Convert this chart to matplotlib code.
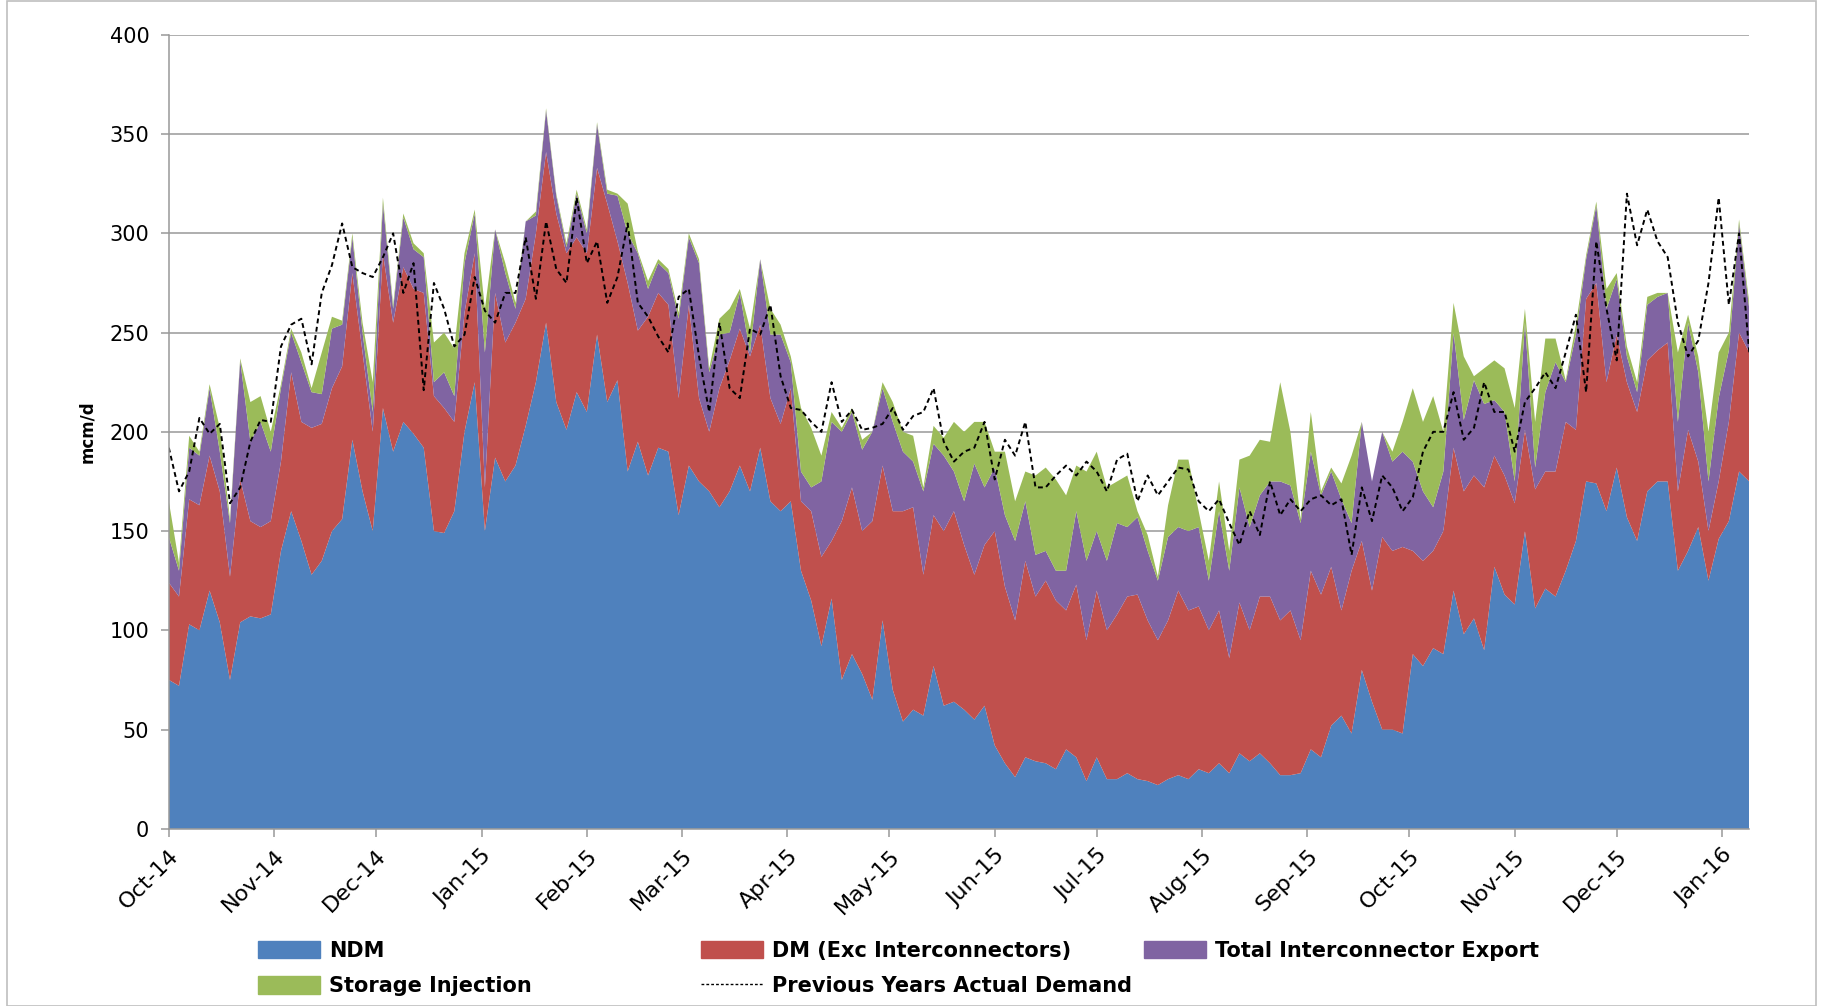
import numpy as np
import matplotlib
matplotlib.use("Agg")
import matplotlib.pyplot as plt
import matplotlib.dates as mdates
from matplotlib.lines import Line2D
from matplotlib.patches import Patch, Rectangle

plt.rcParams['font.family'] = ['DejaVu Sans']

# one reading every 3 days from 1 Oct 2014
start = np.datetime64('2014-10-01')
step_days = 3

# stack levels (mcm/d): top of NDM, top of DM, top of
# interconnector export, top of storage injection
ndm_top = [
    75, 72, 103, 100, 120, 104, 75, 104, 107, 106,
    108, 140, 160, 145, 128, 135, 150, 156, 196, 170,
    150, 212, 190, 205, 199, 192, 150, 149, 160, 200,
    225, 150, 187, 175, 183, 203, 225, 255, 215, 201,
    220, 210, 249, 215, 226, 180, 195, 178, 192, 190,
    158, 183, 175, 170, 162, 170, 183, 170, 192, 165,
    160, 165, 130, 115, 92, 116, 75, 88, 78, 65,
    105, 70, 54, 60, 57, 82, 62, 64, 60, 55,
    62, 42, 33, 26, 36, 34, 33, 30, 40, 36,
    24, 36, 25, 25, 28, 25, 24, 22, 25, 27,
    25, 30, 28, 33, 28, 38, 34, 38, 33, 27,
    27, 28, 40, 36, 52, 57, 48, 80, 64, 50,
    50, 48, 88, 82, 91, 88, 120, 98, 106, 90,
    132, 118, 113, 150, 111, 121, 117, 130, 145, 175,
    174, 160, 182, 157, 145, 170, 175, 175, 130, 140,
    152, 125, 146, 155, 180, 175,
]
dm_top = [
    124, 117, 166, 163, 188, 170, 127, 176, 155, 152,
    155, 185, 230, 205, 202, 204, 222, 233, 280, 240,
    200, 290, 255, 283, 272, 270, 218, 212, 205, 260,
    290, 172, 270, 245, 255, 267, 300, 341, 310, 290,
    298, 290, 333, 315, 296, 275, 251, 258, 270, 264,
    217, 264, 217, 200, 222, 236, 252, 238, 254, 217,
    204, 222, 165, 160, 137, 145, 155, 172, 150, 155,
    183, 160, 160, 162, 128, 158, 150, 160, 143, 128,
    143, 150, 122, 105, 135, 117, 125, 115, 110, 123,
    95, 120, 100, 108, 117, 118, 105, 95, 105, 120,
    110, 112, 100, 110, 86, 114, 100, 117, 117, 105,
    110, 95, 130, 118, 132, 110, 130, 145, 120, 147,
    140, 142, 140, 135, 140, 150, 192, 170, 178, 172,
    188, 178, 164, 201, 171, 180, 180, 205, 201, 267,
    275, 225, 249, 225, 210, 236, 241, 245, 170, 201,
    185, 150, 175, 205, 250, 240,
]
export_top = [
    147, 130, 192, 188, 222, 190, 154, 236, 195, 205,
    190, 222, 250, 235, 220, 219, 252, 254, 298, 250,
    210, 315, 262, 308, 292, 288, 225, 230, 218, 285,
    310, 240, 302, 280, 262, 306, 309, 362, 319, 293,
    320, 300, 355, 320, 319, 300, 290, 272, 285, 280,
    257, 298, 285, 230, 249, 250, 270, 240, 287, 249,
    249, 235, 180, 172, 175, 205, 200, 210, 191, 200,
    222, 205, 190, 185, 170, 194, 188, 180, 165, 184,
    172, 182, 158, 145, 165, 138, 140, 130, 130, 160,
    135, 150, 135, 154, 152, 157, 140, 125, 147, 152,
    150, 152, 125, 160, 130, 172, 152, 168, 175, 175,
    173, 154, 190, 168, 180, 166, 154, 205, 175, 200,
    185, 190, 185, 170, 162, 180, 250, 206, 226, 214,
    216, 210, 175, 255, 182, 220, 235, 225, 249, 287,
    314, 262, 277, 238, 220, 264, 268, 270, 205, 255,
    230, 175, 217, 241, 305, 262,
]
storage_top = [
    165, 134, 198, 190, 224, 202, 156, 237, 215, 218,
    200, 224, 252, 240, 222, 240, 258, 256, 300, 255,
    225, 318, 264, 310, 295, 290, 245, 250, 242, 290,
    312, 262, 302, 285, 265, 306, 311, 363, 320, 295,
    322, 302, 356, 322, 320, 315, 291, 276, 287, 282,
    260, 300, 287, 232, 257, 262, 272, 252, 287, 262,
    254, 238, 212, 202, 188, 210, 202, 212, 196, 200,
    225, 215, 200, 198, 172, 203, 197, 205, 200, 205,
    205, 190, 190, 165, 180, 178, 182, 176, 168, 183,
    180, 190, 172, 175, 178, 160, 148, 127, 163, 186,
    186, 160, 135, 175, 140, 186, 188, 196, 195, 225,
    200, 156, 210, 170, 182, 174, 188, 205, 175, 200,
    190, 205, 222, 205, 218, 200, 265, 238, 228, 232,
    236, 232, 212, 262, 205, 247, 247, 226, 254, 289,
    316, 272, 280, 243, 225, 268, 270, 270, 240, 259,
    238, 200, 240, 250, 307, 265,
]
prev_year = [
    192, 170, 180, 207, 199, 204, 164, 172, 195, 206,
    205, 243, 254, 257, 234, 270, 284, 305, 283, 280,
    278, 288, 300, 270, 285, 221, 275, 262, 243, 249,
    278, 261, 255, 270, 270, 298, 267, 306, 282, 275,
    318, 285, 296, 265, 278, 305, 265, 258, 248, 240,
    268, 272, 238, 210, 255, 222, 217, 252, 249, 264,
    228, 212, 211, 205, 200, 225, 205, 211, 201, 202,
    204, 212, 201, 208, 210, 222, 195, 185, 190, 192,
    205, 176, 196, 188, 205, 172, 172, 178, 183, 178,
    185, 180, 170, 186, 189, 165, 178, 168, 175, 182,
    181, 165, 160, 166, 154, 143, 160, 148, 175, 158,
    166, 160, 166, 168, 163, 166, 138, 172, 155, 178,
    172, 160, 167, 190, 200, 200, 220, 196, 202, 225,
    210, 210, 190, 215, 222, 230, 222, 240, 259, 220,
    296, 262, 236, 320, 294, 312, 296, 288, 255, 238,
    246, 275, 318, 264, 300, 240,
]

series_names = ['NDM', 'DM (Exc Interconnectors)', 'Total Interconnector Export',
                'Storage Injection']
prev_name = 'Previous Years Actual Demand'
colors = ['#4F81BD', '#C0504D', '#8064A2', '#9BBB59']

dates = start + np.arange(len(ndm_top)) * np.timedelta64(step_days, 'D')
dates = dates.astype('datetime64[D]').astype(object)

levels = np.array([ndm_top, dm_top, export_top, storage_top], dtype=float)
components = np.vstack([levels[0], np.diff(levels, axis=0)])

fig = plt.figure(figsize=(18.25, 10.06), dpi=100)
ax = fig.add_axes([0.0925, 0.1762, 0.866, 0.7891])

ax.stackplot(dates, components, colors=colors, linewidth=0)
ax.plot(dates, prev_year, color='black', lw=1.4, ls=(0, (2.5, 1.8)))

ax.set_ylim(0, 400)
ax.set_xlim(dates[0], dates[-1])
ax.set_yticks(np.arange(0, 401, 50))
ax.yaxis.grid(True, color='#999999', lw=1.1)
ax.set_axisbelow(True)

ax.xaxis.set_major_locator(mdates.MonthLocator())
ax.xaxis.set_major_formatter(mdates.DateFormatter('%b-%y'))
for lbl in ax.get_xticklabels():
    lbl.set_rotation(45)
    lbl.set_ha('right')
    lbl.set_rotation_mode('anchor')

ax.tick_params(axis='both', color='#999999', length=6, width=1.1)
ax.tick_params(axis='y', labelsize=15, pad=8)
ax.tick_params(axis='x', labelsize=16, pad=6)
for side in ['top', 'right']:
    ax.spines[side].set_visible(False)
for side in ['left', 'bottom']:
    ax.spines[side].set_color('#999999')
    ax.spines[side].set_linewidth(1.1)

ax.set_ylabel('mcm/d', fontsize=12, fontweight='bold')
ax.yaxis.set_label_coords(-0.046, 0.5)

# legend: three columns laid out like the original
handles = [Patch(color=c) for c in colors]
prev_handle = Line2D([], [], color='black', lw=1, ls=(0, (2, 1.5)))
cols = [
    ([handles[0], handles[3]], [series_names[0], series_names[3]], 0.1367),
    ([handles[1], prev_handle], [series_names[1], prev_name], 0.3797),
    ([handles[2]], [series_names[2]], 0.6222),
]
for hs, labels, x in cols:
    fig.legend(hs, labels, loc='upper left', bbox_to_anchor=(x, 0.073),
               frameon=False, handlelength=2.98, handleheight=0.9,
               handletextpad=0.43, labelspacing=0.73, borderaxespad=0,
               prop={'weight': 'bold', 'size': 15})

fig.patches.append(Rectangle((0.004, 0.0), 0.991, 0.999, transform=fig.transFigure,
                             fill=False, edgecolor='#BFBFBF', lw=1.2))

fig.savefig('out.png', dpi=100)
